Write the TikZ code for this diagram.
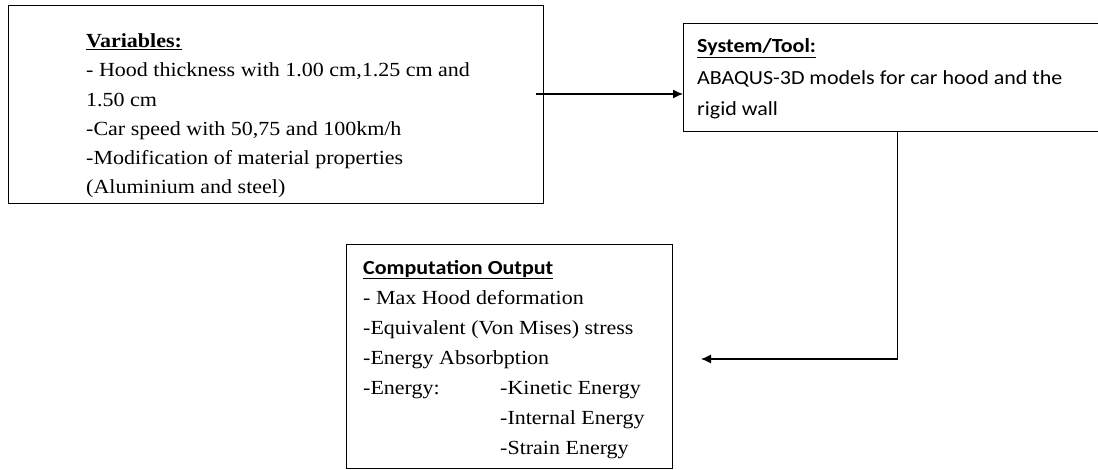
\documentclass[tikz,border=0pt]{standalone}
\usepackage{fontspec}
\setmainfont{Liberation Serif}[FakeStretch=1.1]
\newfontfamily\calibri{Carlito}[FakeStretch=1.1]
\usetikzlibrary{arrows.meta}

\tikzset{
  box/.style={draw, line width=1.3pt, rectangle, anchor=north west, inner sep=0pt},
  txt/.style={anchor=base west, align=left, inner sep=0pt, font=\fontsize{20}{29.3}\selectfont},
  link/.style={line width=1.2pt, -{Latex[length=10pt,width=9pt]}}
}

\begin{document}
\begin{tikzpicture}[x=1pt,y=-1pt]
  \useasboundingbox (0,0) rectangle (1098,470);
  % boxes
  \node[box, minimum width=535pt, minimum height=198pt] (var) at (8,5) {};
  \node[box, minimum width=428pt, minimum height=108pt] (sys) at (683,23) {};
  \node[box, minimum width=326pt, minimum height=224pt] (out) at (346,244) {};
  % texts (placed by the baseline of their last line)
  \node[txt] (vartxt) at (86,194) {\textbf{\underline{Variables:}}\\
    - Hood thickness with 1.00 cm,1.25 cm and\\
    1.50 cm\\
    -Car speed with 50,75 and 100km/h\\
    -Modification of material properties\\
    (Aluminium and steel)};
  \node[txt, font=\calibri\fontsize{20}{31.5}\selectfont] (systxt) at (697,116) {\textbf{\underline{System/Tool:}}\\
    ABAQUS-3D models for car hood and the\\
    rigid wall};
  \node[txt, font=\fontsize{20}{30}\selectfont] (outtxt) at (363,454) {{\calibri\bfseries\underline{Computation Output}}\\
    - Max Hood deformation\\
    -Equivalent (Von Mises) stress\\
    -Energy Absorbption\\
    \makebox[137pt][l]{-Energy:}-Kinetic Energy\\
    \hspace*{137pt}-Internal Energy\\
    \hspace*{137pt}-Strain Energy};
  % connectors
  \coordinate (a1) at (536,94);
  \coordinate (o1) at (701,359);
  \draw[link] (a1) -- (a1 -| sys.west);
  \draw[link] (sys.south) |- (o1);
\end{tikzpicture}
\end{document}
